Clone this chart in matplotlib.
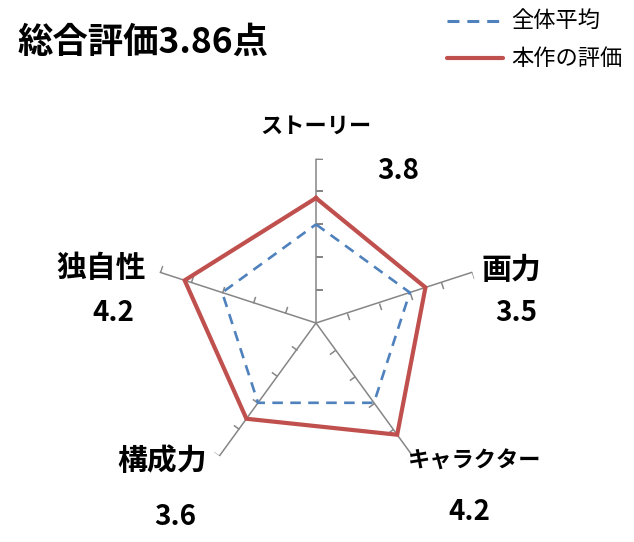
import numpy as np
import matplotlib
matplotlib.use("Agg")
import matplotlib.pyplot as plt
from matplotlib.markers import MarkerStyle
from matplotlib.path import Path
from matplotlib.transforms import Affine2D
from matplotlib.lines import Line2D

plt.rcParams['font.family'] = ['Noto Sans CJK JP', 'DejaVu Sans']

# ---- data ----
categories = ["ストーリー", "画力", "キャラクター", "構成力", "独自性"]
work_scores = [3.8, 3.5, 4.2, 3.6, 4.2]
average_scores = [3.0, 3.0, 3.0, 3.0, 3.0]
series_names = ["全体平均", "本作の評価"]
r_max = 5
r_ticks = [1, 2, 3, 4, 5]

W, H = 634, 542
fig = plt.figure(figsize=(W / 100, H / 100), dpi=100)

cx, cy, R = 316, 323, 164.4
ax = fig.add_axes([(cx - R) / W, (H - cy - R) / H, 2 * R / W, 2 * R / H], projection='polar')
ax.set_theta_offset(np.pi / 2)
ax.set_theta_direction(-1)
ax.set_ylim(0, r_max)
ax.grid(False)
ax.set_xticks([])
ax.set_yticks([])
ax.spines['polar'].set_visible(False)
ax.patch.set_alpha(0)

n = len(categories)
thetas = np.arange(n) * 2 * np.pi / n
gray = '#868686'

for t in thetas:
    ax.plot([t, t], [0, r_max], color=gray, lw=1.1, zorder=1)
    tdeg = np.degrees(t)
    mk = MarkerStyle(Path([(0, 0), (1, 0)]), transform=Affine2D().rotate_deg(-tdeg))
    ax.plot([t] * len(r_ticks), r_ticks, linestyle='none', marker=mk, markersize=10,
            markeredgecolor=gray, markeredgewidth=1.1, zorder=1)

th_closed = np.concatenate([thetas, thetas[:1]])
blue = '#4F81BD'
red = '#C0504D'
ax.plot(th_closed, average_scores + average_scores[:1], color=blue, lw=1.9,
        linestyle=(0, (4, 2.8)), zorder=3)
ax.plot(th_closed, work_scores + work_scores[:1], color=red, lw=3.0,
        solid_joinstyle='miter', zorder=4)

def ftext(x, y, s, **kw):
    fig.text(x / W, 1 - y / H, s, **kw)

# category labels and values
label_pos = [(316, 126), (511, 270), (475, 461), (162, 461), (101, 268)]
value_pos = [(398, 171), (516, 313), (469, 512), (175, 517), (113, 313)]
for cat, v, lp, vp in zip(categories, work_scores, label_pos, value_pos):
    kana = all('\u30a0' <= ch <= '\u30ff' for ch in cat)
    ftext(lp[0], lp[1], cat, ha='center', va='center', fontsize=16 if kana else 21.5,
          fontweight='bold')
    ftext(vp[0], vp[1], f"{v:.1f}", ha='center', va='center', fontsize=20, fontweight='bold')

# title
ftext(18, 42, f"総合評価{np.mean(work_scores):.2f}点", ha='left', va='center',
      fontsize=25.5, fontweight='bold')

# legend
fig.add_artist(Line2D([447 / W, 500 / W], [1 - 20.5 / H, 1 - 20.5 / H], color=blue, lw=2.2,
                      linestyle=(0, (3.9, 2.6)), transform=fig.transFigure))
fig.add_artist(Line2D([447 / W, 503 / W], [1 - 58.3 / H, 1 - 58.3 / H], color=red, lw=3.0,
                      solid_capstyle='round', transform=fig.transFigure))
ftext(511, 20.5, series_names[0], ha='left', va='center', fontsize=16)
ftext(511, 58.3, series_names[1], ha='left', va='center', fontsize=16)

fig.savefig("out.png", dpi=100)
